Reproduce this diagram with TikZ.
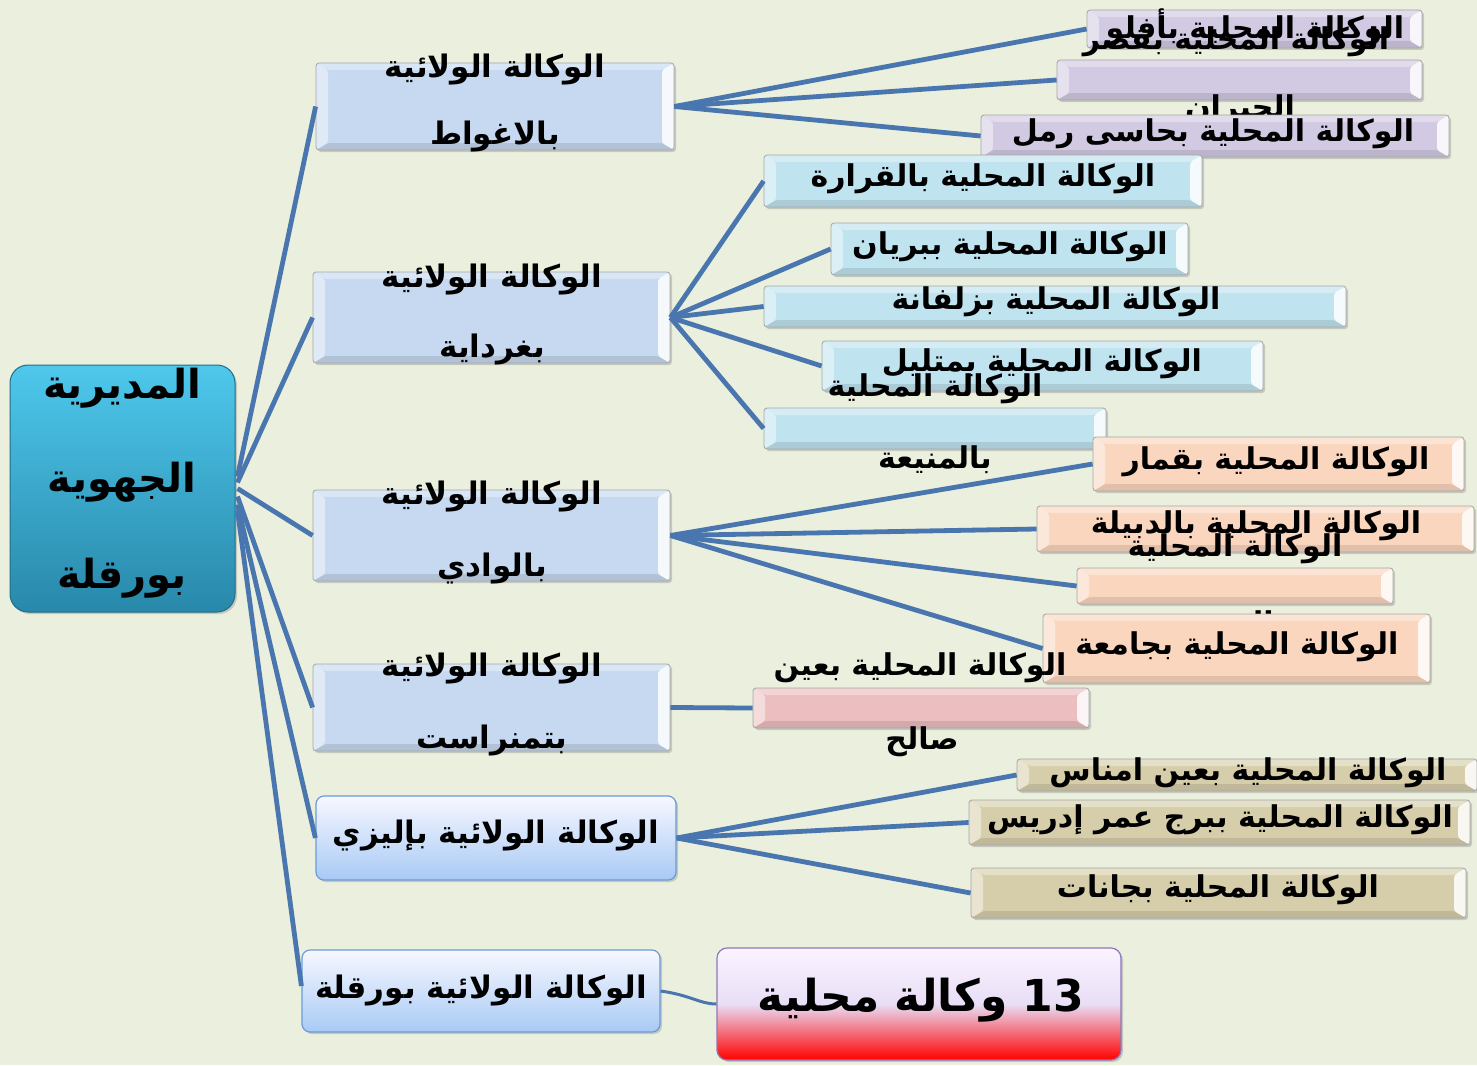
\documentclass[tikz,border=0pt]{standalone}
\usepackage{fontspec}
\usetikzlibrary{shadows,calc}
\TeXXeTstate=1
\newfontfamily\arfont[Script=Arabic]{DejaVu Sans}
\definecolor{bgc}{RGB}{235,239,222}
\definecolor{conc}{RGB}{74,118,176}
\definecolor{wilc}{RGB}{198,217,240}
\definecolor{lilc}{RGB}{210,201,226}
\definecolor{cyac}{RGB}{191,227,239}
\definecolor{peac}{RGB}{250,214,190}
\definecolor{pinc}{RGB}{236,190,192}
\definecolor{tanc}{RGB}{214,206,170}
\definecolor{rootT}{RGB}{78,200,236}
\definecolor{rootB}{RGB}{40,136,170}
\definecolor{glassD}{RGB}{107,155,216}
\definecolor{glassB}{RGB}{168,202,245}
\definecolor{tbD}{RGB}{140,120,185}
\definecolor{tbT}{RGB}{250,244,255}
\definecolor{tbM}{RGB}{232,222,246}
\newcommand{\bevelpic}{%
  \fill[white,opacity=.35] (path picture bounding box.north west) -- (path picture bounding box.north east) -- ([xshift=-12pt,yshift=-7pt]path picture bounding box.north east) -- ([xshift=12pt,yshift=-7pt]path picture bounding box.north west) -- cycle;
  \fill[black,opacity=.10] (path picture bounding box.south west) -- (path picture bounding box.south east) -- ([xshift=-12pt,yshift=7pt]path picture bounding box.south east) -- ([xshift=12pt,yshift=7pt]path picture bounding box.south west) -- cycle;
  \fill[white,opacity=.85] (path picture bounding box.north east) -- (path picture bounding box.south east) -- ([xshift=-12pt,yshift=7pt]path picture bounding box.south east) -- ([xshift=-12pt,yshift=-7pt]path picture bounding box.north east) -- cycle;
  \fill[white,opacity=.45] (path picture bounding box.north west) -- (path picture bounding box.south west) -- ([xshift=12pt,yshift=7pt]path picture bounding box.south west) -- ([xshift=12pt,yshift=-7pt]path picture bounding box.north west) -- cycle;
}
\tikzset{
  bev/.style={draw=black!35, line width=0.8pt, fill=#1, rounded corners=3pt, inner sep=0pt,
    drop shadow={opacity=.35, shadow xshift=2pt, shadow yshift=-2pt},
    path picture={\bevelpic}},
  conn/.style={draw=conc, line width=4.8pt},
  txt/.style={font=\arfont\bfseries\fontsize{30}{33}\selectfont, inner sep=0pt, text=black},
  wtxt/.style={font=\arfont\bfseries\fontsize{31}{34}\selectfont, inner sep=0pt, text=black},
  bigtxt/.style={font=\arfont\bfseries\fontsize{40}{44}\selectfont, inner sep=0pt, text=black},
  glass/.style={draw=glassD, line width=1.2pt, rounded corners=8pt, top color=blue!3, bottom color=glassB, inner sep=0pt,
    drop shadow={opacity=.35, shadow xshift=2pt, shadow yshift=-2pt}},
}
\begin{document}
\begin{tikzpicture}[x=1pt,y=-1pt]
\useasboundingbox (0,0) rectangle (1477,1065);
\fill[bgc] (0,0) rectangle (1477,1065);
% ---------- root
\node[draw=rootB!80!black, line width=1pt, rounded corners=18pt, top color=rootT, bottom color=rootB,
  minimum width=225pt, minimum height=247pt, inner sep=0pt,
  drop shadow={opacity=.35, shadow xshift=2pt, shadow yshift=-2pt}] (root) at (122.5,488.5) {};
% wilaya boxes
\node[bev=wilc, minimum width=358pt, minimum height=87pt] (lag) at (495,106.5) {};
\node[bev=wilc, minimum width=357pt, minimum height=91pt] (ghar) at (491.5,317.5) {};
\node[bev=wilc, minimum width=357pt, minimum height=91pt] (oued) at (491.5,535.5) {};
\node[bev=wilc, minimum width=357pt, minimum height=87pt] (tam) at (491.5,707.5) {};
\node[glass, minimum width=360pt, minimum height=84pt] (ill) at (496,838) {};
\node[glass, minimum width=358pt, minimum height=82pt] (oua) at (481,991) {};
% root connectors
\draw[conn] ($(root.east)+(2,-12)$) -- (lag.west);
\draw[conn] ($(root.east)+(2,-6)$) -- (ghar.west);
\draw[conn] ($(root.east)+(2,0)$) -- (oued.west);
\draw[conn] ($(root.east)+(2,8)$) -- (tam.west);
\draw[conn] ($(root.east)+(2,16)$) -- (ill.west);
\draw[conn] ($(root.east)+(2,22)$) -- ([yshift=5pt]oua.west);
% root text
\node[bigtxt] (rt1) at (122,388) {\beginR المديرية\endR};
\node[bigtxt] (rt2) at (122,482) {\beginR الجهوية\endR};
\node[bigtxt] (rt3) at (122,578) {\beginR بورقلة\endR};
% wilaya texts
\node[wtxt] (lagA) at (495,70) {\beginR الوكالة الولائية\endR};
\node[wtxt] (lagB) at (495,137) {\beginR بالاغواط\endR};
\node[wtxt] (gharA) at (492,280) {\beginR الوكالة الولائية\endR};
\node[wtxt] (gharB) at (492,350) {\beginR بغرداية\endR};
\node[wtxt] (ouedA) at (492,497) {\beginR الوكالة الولائية\endR};
\node[wtxt] (ouedB) at (492,569) {\beginR بالوادي\endR};
\node[wtxt] (tamA) at (492,668) {\beginR الوكالة الولائية\endR};
\node[wtxt] (tamB) at (492,740) {\beginR بتمنراست\endR};
\node[wtxt] (illT) at (496,835) {\beginR الوكالة الولائية بإليزي\endR};
\node[wtxt] (ouaT) at (481,990) {\beginR الوكالة الولائية بورقلة\endR};
% ---------- Laghouat group
\node[bev=lilc, minimum width=335pt, minimum height=38pt] (afl) at (1254.5,29) {};
\node[txt] (aflT) at (1255,27) {\beginR الوكالة المحلية بأفلو\endR};
\node[bev=lilc, minimum width=365pt, minimum height=40pt] (ksr) at (1239.5,80) {};
\node[txt] (ksrA) at (1236,42) {\beginR الوكالة المحلية بقصر\endR};
\node[txt] (ksrB) at (1240,110) {\beginR الحيران\endR};
\node[bev=lilc, minimum width=468pt, minimum height=42pt] (has) at (1215,136) {};
\node[txt] (hasT) at (1213,134) {\beginR الوكالة المحلية بحاسى رمل\endR};
\draw[conn] (lag.east) -- (afl.west);
\draw[conn] (lag.east) -- (ksr.west);
\draw[conn] (lag.east) -- (has.west);
% Ghardaia group
\node[bev=cyac, minimum width=438pt, minimum height=52pt] (gue) at (983,181) {};
\node[txt] (gueT) at (983,179) {\beginR الوكالة المحلية بالقرارة\endR};
\node[bev=cyac, minimum width=357pt, minimum height=52pt] (ber) at (1009.5,249) {};
\node[txt] (berT) at (1010,247) {\beginR الوكالة المحلية ببريان\endR};
\node[bev=cyac, minimum width=582pt, minimum height=41pt] (zel) at (1055,306.5) {};
\node[txt] (zelT) at (1056,302) {\beginR الوكالة المحلية بزلفانة\endR};
\node[bev=cyac, minimum width=441pt, minimum height=50pt] (met) at (1042.5,366) {};
\node[txt] (metT) at (1042,364) {\beginR الوكالة المحلية بمتليل\endR};
\node[bev=cyac, minimum width=342pt, minimum height=41pt] (men) at (935,428.5) {};
\node[txt] (menA) at (935,389) {\beginR الوكالة المحلية\endR};
\node[txt] (menB) at (935,460) {\beginR بالمنيعة\endR};
\draw[conn] (ghar.east) -- (gue.west);
\draw[conn] (ghar.east) -- (ber.west);
\draw[conn] (ghar.east) -- (zel.west);
\draw[conn] (ghar.east) -- (met.west);
\draw[conn] (ghar.east) -- (men.west);
% El Oued group
\node[bev=peac, minimum width=371pt, minimum height=54pt] (gum) at (1278.5,464) {};
\node[txt] (gumT) at (1276,462) {\beginR الوكالة المحلية بقمار\endR};
\node[bev=peac, minimum width=437pt, minimum height=46pt] (deb) at (1255.5,529) {};
\node[txt] (debT) at (1256,526) {\beginR الوكالة المحلية بالدبيلة\endR};
\node[bev=peac, minimum width=316pt, minimum height=36pt] (meg) at (1235,586) {};
\node[txt] (megA) at (1235,549) {\beginR الوكالة المحلية\endR};
\node[txt] (megB) at (1235,626) {\beginR بالمغير\endR};
\node[bev=peac, minimum width=387pt, minimum height=69pt] (dja) at (1236.5,648.5) {};
\node[txt] (djaT) at (1237,647) {\beginR الوكالة المحلية بجامعة\endR};
\draw[conn] (oued.east) -- (gum.west);
\draw[conn] (oued.east) -- (deb.west);
\draw[conn] (oued.east) -- (meg.west);
\draw[conn] (oued.east) -- (dja.west);
% Tamanrasset
\node[bev=pinc, minimum width=336pt, minimum height=40pt] (ins) at (921,708) {};
\node[txt] (insA) at (920,668) {\beginR الوكالة المحلية بعين\endR};
\node[txt] (insB) at (922,742) {\beginR صالح\endR};
\draw[conn] (tam.east) -- (ins.west);
% Illizi group
\node[bev=tanc, minimum width=460pt, minimum height=32pt] (ame) at (1247,775) {};
\node[txt] (ameT) at (1248,773) {\beginR الوكالة المحلية بعين امناس\endR};
\node[bev=tanc, minimum width=501pt, minimum height=45pt] (bor) at (1219.5,822.5) {};
\node[txt] (borT) at (1220,820) {\beginR الوكالة المحلية ببرج عمر إدريس\endR};
\node[bev=tanc, minimum width=495pt, minimum height=50pt] (djn) at (1218.5,893) {};
\node[txt] (djnT) at (1218,890) {\beginR الوكالة المحلية بجانات\endR};
\draw[conn] (ill.east) -- (ame.west);
\draw[conn] (ill.east) -- (bor.west);
\draw[conn] (ill.east) -- (djn.west);
% 13 box
\node[draw=tbD, line width=1.2pt, rounded corners=10pt, inner sep=0pt,
  minimum width=404pt, minimum height=112pt,
  top color=tbT, bottom color=red, middle color=tbM,
  drop shadow={opacity=.35, shadow xshift=2pt, shadow yshift=-2pt}] (n13) at (919,1004) {};
\node[font=\arfont\bfseries\fontsize{44}{48}\selectfont, inner sep=0pt] (n13T) at (921,1000) {\beginR\beginL 13\endL{} وكالة محلية\endR};
\draw[conn, line width=3pt] (oua.east) .. controls (690,995) and (700,1004) .. (n13.west);
\end{tikzpicture}
\end{document}
